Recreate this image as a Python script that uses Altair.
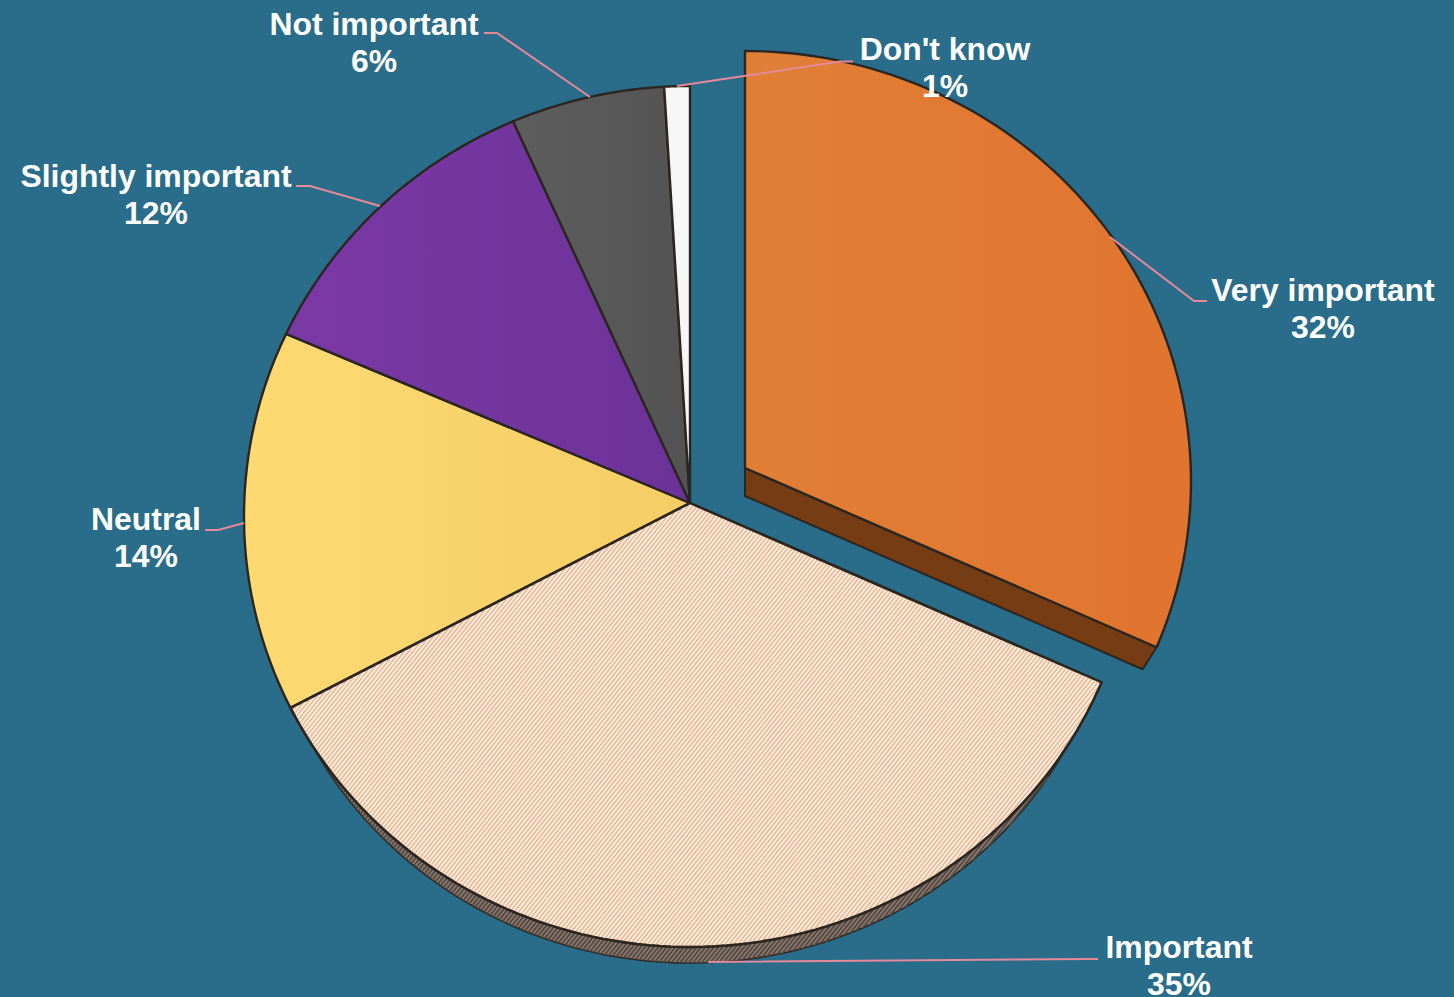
import math
import altair as alt
import pandas as pd

# Survey shares, clockwise from twelve o'clock
categories = ["Very important", "Important", "Neutral", "Slightly important", "Not important", "Don't know"]
values = [32, 35, 14, 12, 6, 1]

W, H = 1454, 997
BG = "#296d8a"
EDGE = "#2b2622"
LEADER = "#e5899b"
FONT = "Liberation Sans"

# Tilted-disc geometry: the apex sits a little above the centre of the rim ellipse
APEX = (690.0, 503.0)
RIM = dict(dy=13.5, rx=446.0, ry=430.5)
DEPTH = dict(dy=28.0, cdy=18.0, rx=429.0, ry=414.0)
EXPLODE = {"Very important": (55.0, -35.0)}


def tilt(share):
    """Map a cumulative share (0..1) to a screen angle under the disc's tilt."""
    a = 2 * math.pi * share
    return a + math.radians(-1.5) * math.sin(a) + math.radians(0.4) * math.sin(2 * a)


def ray(apex, dy, rx, ry, angle):
    """Point where a ray from the apex meets the rim ellipse."""
    dx_, dy_ = math.sin(angle), -math.cos(angle)
    a = (dx_ / rx) ** 2 + (dy_ / ry) ** 2
    b = 2 * (dy_ * -dy) / ry ** 2
    c = (dy / ry) ** 2 - 1
    t = (-b + math.sqrt(b * b - 4 * a * c)) / (2 * a)
    return apex[0] + t * dx_, apex[1] + t * dy_


def wedge(apex, dy, rx, ry, s0, s1, steps=90):
    pts = [apex]
    for k in range(steps + 1):
        pts.append(ray(apex, dy, rx, ry, tilt(s0 + (s1 - s0) * k / steps)))
    return pts


def frame(pts):
    return pd.DataFrame({"x": [p[0] for p in pts], "y": [p[1] for p in pts], "i": range(len(pts))})


x_enc = alt.X("x:Q", scale=alt.Scale(domain=[0, W], range=[0, W]), axis=None)
y_enc = alt.Y("y:Q", scale=alt.Scale(domain=[0, H], range=[0, H]), axis=None)


def polygon(pts, fill, stroke=EDGE, width=2.4):
    return alt.Chart(frame(pts)).mark_line(
        fill=fill, stroke=stroke, strokeWidth=width, interpolate="linear-closed", strokeJoin="round"
    ).encode(x=x_enc, y=y_enc, order=alt.Order("i:Q"))


def ramp(c0, c1, horizontal=True):
    return alt.Gradient(
        gradient="linear",
        x1=0, y1=0, x2=1 if horizontal else 0, y2=0 if horizontal else 1,
        stops=[alt.GradientStop(color=c0, offset=0), alt.GradientStop(color=c1, offset=1)],
    )


def hatch(pts, period=4.3, slope=1.25):
    """Clip parallel rising lines y = c - slope * x against a polygon."""
    segs = []
    cs = [p[1] + slope * p[0] for p in pts]
    c = min(cs)
    n = len(pts)
    while c < max(cs):
        hits = []
        for k in range(n):
            (xa, ya), (xb, yb) = pts[k], pts[(k + 1) % n]
            fa, fb = ya + slope * xa - c, yb + slope * xb - c
            if fa * fb < 0:
                t = fa / (fa - fb)
                hits.append((xa + t * (xb - xa), ya + t * (yb - ya)))
        hits.sort()
        for k in range(0, len(hits) - 1, 2):
            segs.append({"x": hits[k][0], "y": hits[k][1], "x2": hits[k + 1][0], "y2": hits[k + 1][1]})
        c += period * slope
    return pd.DataFrame(segs)


def stripes(pts, color, width):
    return alt.Chart(hatch(pts)).mark_rule(stroke=color, strokeWidth=width).encode(
        x=x_enc, y=y_enc, x2="x2:Q", y2="y2:Q"
    )


fills = {
    "Very important": ramp("#e17f36", "#e1742e"),
    "Important": "#fdf0e6",
    "Neutral": ramp("#ffd972", "#f4ce64"),
    "Slightly important": ramp("#7b39a5", "#6c3299"),
    "Not important": ramp("#5e5e5e", "#535353"),
    "Don't know": "#f6f6f6",
}

total = sum(values)
spans = {}
run = 0
for cat, v in zip(categories, values):
    spans[cat] = (run / total, (run + v) / total)
    run += v

layers = []

# Walls of the disc sit beneath the top faces
s0, s1 = spans["Important"]
low_apex = (APEX[0], APEX[1] + DEPTH["dy"])
low_face = wedge(low_apex, DEPTH["cdy"], DEPTH["rx"], DEPTH["ry"], s0, s1)
layers.append(polygon(low_face, "#8a7b72", width=1.6))
layers.append(stripes(low_face, "#54473f", 1.7))

ox, oy = EXPLODE["Very important"]
s0, s1 = spans["Very important"]
top_apex = (APEX[0] + ox, APEX[1] + oy)
bot_apex = (top_apex[0], top_apex[1] + DEPTH["dy"])
wall = [
    top_apex,
    ray(top_apex, RIM["dy"], RIM["rx"], RIM["ry"], tilt(s1)),
    ray(bot_apex, DEPTH["cdy"], DEPTH["rx"], DEPTH["ry"], tilt(s1)),
    bot_apex,
]
layers.append(polygon(wall, "#763c14", width=2))

# Top faces
faces = {}
for cat in categories:
    ox, oy = EXPLODE.get(cat, (0.0, 0.0))
    apex = (APEX[0] + ox, APEX[1] + oy)
    s0, s1 = spans[cat]
    faces[cat] = wedge(apex, RIM["dy"], RIM["rx"], RIM["ry"], s0, s1)
    layers.append(polygon(faces[cat], fills[cat]))

layers.append(stripes(faces["Important"], "#e9bb97", 1.7))
# Outline goes back on top of the stripes
layers.append(polygon(faces["Important"], "transparent"))

# Leader lines, one polyline per label
leaders = {
    "Very important": [(1207, 301), (1194, 301), (1110, 237)],
    "Important": [(1098, 959), (1085, 959), (708, 962)],
    "Neutral": [(205, 530), (218, 530), (244, 523)],
    "Slightly important": [(296, 186), (310, 186), (380, 206)],
    "Not important": [(484, 33), (497, 33), (590, 97)],
    "Don't know": [(853, 61.5), (840, 61.5), (677, 86)],
}
for cat, pts in leaders.items():
    layers.append(
        alt.Chart(frame(pts)).mark_line(stroke=LEADER, strokeWidth=2).encode(x=x_enc, y=y_enc, order=alt.Order("i:Q"))
    )

# Label anchors: centre x and first-line baseline
anchors = {
    "Very important": (1323, 301),
    "Important": (1179, 958),
    "Neutral": (146, 530),
    "Slightly important": (156, 187),
    "Not important": (374, 35),
    "Don't know": (945, 60),
}
rows = []
for cat, v in zip(categories, values):
    ax, ay = anchors[cat]
    rows.append({"x": ax, "y": ay, "t": cat})
    rows.append({"x": ax, "y": ay + 37, "t": f"{v}%"})

layers.append(
    alt.Chart(pd.DataFrame(rows)).mark_text(
        font=FONT, fontSize=31.9, fontWeight="bold", color="white", align="center", baseline="alphabetic"
    ).encode(x=x_enc, y=y_enc, text="t:N")
)

chart = (
    alt.layer(*layers)
    .properties(width=W, height=H, background=BG, padding=0, autosize=alt.AutoSizeParams(type="none"))
    .configure_view(stroke=None)
)
chart.save("out.html", embed_options={"renderer": "svg", "actions": False})
